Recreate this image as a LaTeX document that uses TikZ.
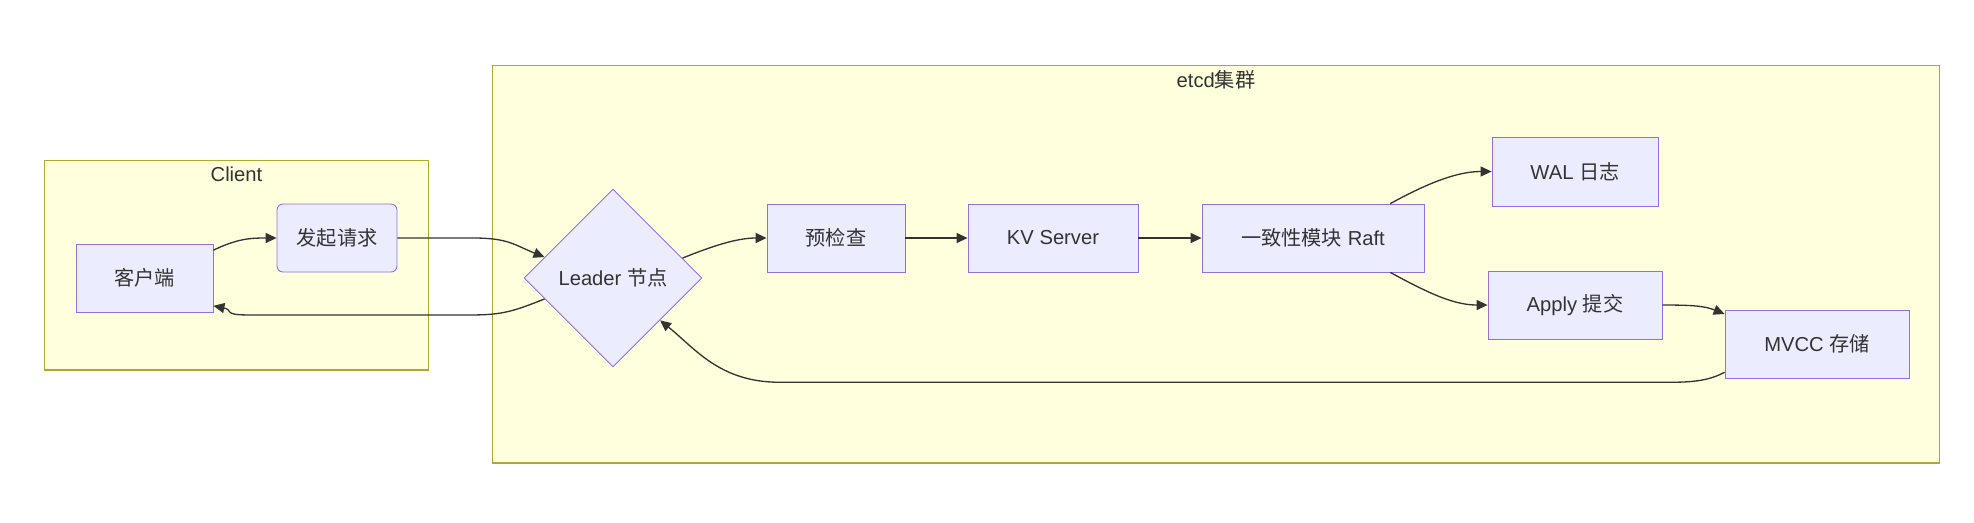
\documentclass[tikz,border=0pt]{standalone}
\usepackage{fontspec}
\setmainfont{Liberation Sans}
\newfontfamily\cjk{Noto Sans CJK SC}
\usepackage{tikz}
\usetikzlibrary{arrows.meta,shapes,positioning}
\definecolor{nodefill}{HTML}{ECECFF}
\definecolor{nodeline}{HTML}{9370DB}
\definecolor{grpfill}{HTML}{FFFFDE}
\definecolor{grpline}{HTML}{AAAA33}
\definecolor{ink}{HTML}{333333}
\newcommand{\txt}{\fontsize{11.5}{13}\selectfont}
\tikzset{style={>={Triangle[length=2.2mm,width=2mm]}}}
\tikzset{group/.style={rectangle,     fill=grpfill, draw=grpline, line width=0.6pt, inner sep=0mm}}
\tikzset{grouplabel/.style={font=\txt, text=ink, inner sep=0mm}}
\tikzset{proc/.style={rectangle,      fill=nodefill,draw=nodeline,line width=0.5pt, text=ink, font=\txt, minimum height=1.36cm, inner sep=0mm}}
\tikzset{procround/.style={proc, rounded corners=1.2mm}}
\tikzset{decide/.style={diamond,      fill=nodefill,draw=nodeline,line width=0.5pt, text=ink, font=\txt, minimum width=3.56cm, minimum height=3.56cm, inner sep=0mm}}
\tikzset{flow/.style={->, draw=ink, line width=0.75pt}}

\begin{document}
\begin{tikzpicture}[x=0.02cm, y=-0.02cm]
    \useasboundingbox (0,0) rectangle (1974,522);

    \node[group] (gcli) at (236.5, 265) [minimum width=7.7cm,  minimum height=4.2cm] {};
    \node[group] (getcd) at (1216, 264) [minimum width=28.96cm, minimum height=7.96cm] {};
    \node[grouplabel, below = 1.4mm of gcli.north]  {Client};
    \node[grouplabel, below = 1.2mm of getcd.north] {etcd{\cjk 集群}};

    \node[proc]      (cli)  at (144.5, 278) [minimum width=2.74cm] {\cjk 客户端};
    \node[procround] (req)  at (337, 238)   [minimum width=2.4cm]  {\cjk 发起请求};
    \node[decide]    (ldr)  at (613, 278)   {Leader {\cjk 节点}};
    \node[proc]      (chk)  at (836, 238)   [minimum width=2.76cm] {\cjk 预检查};
    \node[proc]      (kv)   at (1053, 238)  [minimum width=3.4cm]  {KV Server};
    \node[proc]      (raft) at (1313, 238)  [minimum width=4.44cm] {{\cjk 一致性模块} Raft};
    \node[proc]      (wal)  at (1575, 171.5)[minimum width=3.32cm, minimum height=1.38cm] {WAL {\cjk 日志}};
    \node[proc]      (app)  at (1575, 305)  [minimum width=3.48cm] {Apply {\cjk 提交}};
    \node[proc]      (mvcc) at (1817, 344)  [minimum width=3.68cm] {MVCC {\cjk 存储}};

    \draw[flow] (cli.22) .. controls +(25,-12) and +(-25,0) .. (req.west);
    \draw[flow] (req.east) -- ++(76,0) .. controls +(35,0) and +(-30,-12) .. (ldr.163);
    \draw[flow] (ldr.197) .. controls +(-30,12) and +(30,0) .. ++(-72,16) -- ++(-225,0)
                .. controls +(-25,0) and +(20,4) .. (cli.-22);
    \draw[flow] (ldr.16) .. controls +(30,-12) and +(-30,0) .. (chk.west);
    \draw[flow] (chk) -- (kv);
    \draw[flow] (kv) -- (raft);
    \draw[flow] (raft.24.4) .. controls +(42,-23) and +(-32,0) .. (wal.west);
    \draw[flow] (raft.-24.4) .. controls +(42,23) and +(-32,0) .. (app.west);
    \draw[flow] (app.east) .. controls +(30,0) and +(-20,-8) .. (mvcc.162.5);
    \draw[flow] (mvcc.197.5) .. controls +(-15,8) and +(25,0) .. ++(-55,10) -- ++(-890,0)
                .. controls +(-60,0) and +(35,28) .. (ldr.-42);
  \end{tikzpicture}
\end{document}
